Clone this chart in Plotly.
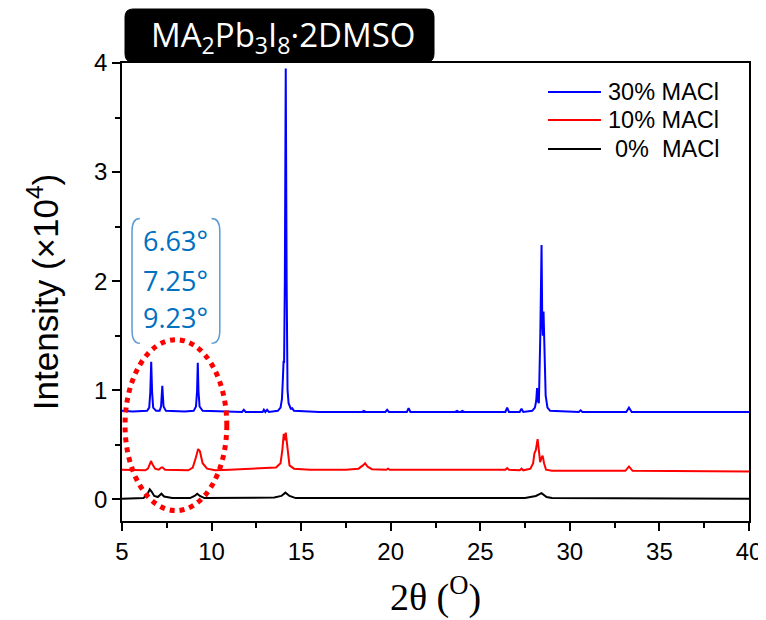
import plotly.graph_objects as go

# ---------------- data ----------------
series_names = ["30% MACl", "10% MACl", "0%\u00a0\u00a0MACl"]
series_colors = ["#0000FF", "#FF0000", "#000000"]

x_30 = [5.0, 5.6, 6.4, 6.52, 6.58, 6.63, 6.68, 6.74, 6.9, 7.1, 7.18, 7.22, 7.25, 7.28, 7.32, 7.45,
        8.5, 9.0, 9.13, 9.19, 9.23, 9.27, 9.33, 9.5, 10.5, 11.7, 11.8, 11.9, 12.85, 12.92, 13.0,
        13.1, 13.2, 13.7, 13.85, 13.93, 13.98, 14.02, 14.05, 14.09, 14.14, 14.19, 14.24, 14.3,
        14.42, 14.5, 14.6, 16.0, 18.4, 18.5, 18.6, 19.7, 19.8, 19.9, 20.9, 21.0, 21.1, 23.6, 23.7,
        23.8, 23.9, 24.0, 24.1, 26.4, 26.5, 26.6, 27.2, 27.3, 27.4, 27.9, 28.05, 28.12, 28.17,
        28.22, 28.27, 28.35, 28.42, 28.46, 28.49, 28.53, 28.59, 28.65, 28.75, 28.9, 30.5, 30.6,
        30.7, 33.15, 33.3, 33.45, 36.0, 40.0]
y_30 = [0.81, 0.805, 0.81, 0.84, 0.98, 1.26, 0.98, 0.84, 0.81, 0.81, 0.85, 0.95, 1.04, 0.95, 0.85, 0.81,
        0.805, 0.81, 0.85, 0.99, 1.25, 0.99, 0.85, 0.81, 0.805, 0.80, 0.82, 0.80, 0.80, 0.82, 0.80,
        0.82, 0.80, 0.81, 0.84, 0.92, 1.1, 1.27, 1.25, 2.0, 3.95, 2.0, 1.0, 0.88,
        0.83, 0.835, 0.81, 0.80, 0.80, 0.81, 0.80, 0.80, 0.82, 0.80, 0.80, 0.835, 0.80, 0.80, 0.81,
        0.80, 0.80, 0.81, 0.80, 0.80, 0.84, 0.80, 0.80, 0.83, 0.80, 0.81, 0.84, 0.90, 1.02,
        0.90, 0.88, 1.5, 2.33, 1.6, 1.5, 1.72, 1.3, 0.95, 0.84, 0.81, 0.80, 0.815,
        0.80, 0.80, 0.84, 0.80, 0.80, 0.80]

x_10 = [5.0, 6.3, 6.45, 6.55, 6.62, 6.7, 6.85, 7.05, 7.2, 7.27, 7.4, 8.7, 8.95, 9.12, 9.25, 9.35,
        9.5, 9.75, 10.2, 11.0, 12.0, 13.0, 13.6, 13.85, 13.95, 14.03, 14.08, 14.14, 14.2, 14.27,
        14.35, 14.6, 15.5, 17.5, 18.2, 18.45, 18.57, 18.7, 18.95, 19.75, 19.85, 19.95, 26.4, 26.5,
        26.6, 27.2, 27.3, 27.4, 27.8, 27.95, 28.02, 28.1, 28.2, 28.27, 28.34, 28.42, 28.48, 28.56,
        28.67, 29.0, 33.1, 33.3, 33.5, 40.0]
y_10 = [0.27, 0.265, 0.28, 0.32, 0.35, 0.32, 0.28, 0.27, 0.29, 0.29, 0.27, 0.265, 0.29, 0.38, 0.46, 0.44,
        0.33, 0.28, 0.265, 0.27, 0.28, 0.285, 0.29, 0.33, 0.45, 0.60, 0.54, 0.61, 0.52, 0.38,
        0.31, 0.28, 0.27, 0.27, 0.28, 0.31, 0.33, 0.30, 0.275, 0.27, 0.28, 0.27, 0.27, 0.285,
        0.27, 0.265, 0.28, 0.265, 0.28, 0.33, 0.42, 0.45, 0.55, 0.45, 0.34, 0.38, 0.40, 0.33,
        0.27, 0.26, 0.26, 0.30, 0.26, 0.255]

x_0 = [5.0, 6.2, 6.4, 6.55, 6.65, 6.8, 7.0, 7.2, 7.35, 7.8, 8.8, 9.05, 9.2, 9.35, 9.6, 12.0, 13.5,
       13.9, 14.12, 14.35, 14.7, 20.0, 27.5, 28.1, 28.42, 28.7, 29.0, 40.0]
y_0 = [0.005, 0.01, 0.04, 0.09, 0.07, 0.03, 0.02, 0.05, 0.025, 0.01, 0.01, 0.03, 0.05, 0.03, 0.01, 0.01, 0.015,
       0.03, 0.06, 0.03, 0.01, 0.01, 0.01, 0.03, 0.055, 0.02, 0.01, 0.005]

x_series = [x_30, x_10, x_0]
y_series = [y_30, y_10, y_0]

peak_labels = ["6.63°", "7.25°", "9.23°"]
x_ticks = [5, 10, 15, 20, 25, 30, 35, 40]
y_ticks = [0, 1, 2, 3, 4]

# ---------------- figure ----------------
W, H = 766, 620
OFF = 8  # page offset of the figure in the screenshot
PW, PH = 627, 458
ML = 122 - OFF
MT = 63 - OFF
MR = W - ML - PW
MB = H - MT - PH


def px(xp):
    return (xp - OFF - ML) / PW


def py(yp):
    return (MT + PH - (yp - OFF)) / PH


fig = go.Figure()
for xs, ys, name, col in zip(x_series, y_series, series_names, series_colors):
    fig.add_trace(go.Scatter(x=xs, y=ys, mode="lines", name=name,
                             line=dict(color=col, width=2), showlegend=False))

shapes = []
annotations = []

# title box (rounded)
x0, x1, y0, y1 = px(125), px(434), py(62), py(9)
rx, ry = 8 / PW, 8 / PH
path = (f"M {x0+rx},{y1} L {x1-rx},{y1} Q {x1},{y1} {x1},{y1-ry} L {x1},{y0+ry} "
        f"Q {x1},{y0} {x1-rx},{y0} L {x0+rx},{y0} Q {x0},{y0} {x0},{y0+ry} "
        f"L {x0},{y1-ry} Q {x0},{y1} {x0+rx},{y1} Z")
shapes.append(dict(type="path", xref="paper", yref="paper", path=path,
                   fillcolor="black", line=dict(color="black", width=1)))
annotations.append(dict(xref="paper", yref="paper", x=px(283), y=py(37),
                        text="MA<sub>2</sub>Pb<sub>3</sub>I<sub>8</sub>·2DMSO",
                        showarrow=False, xanchor="center", yanchor="middle",
                        font=dict(family="Open Sans", size=33, color="white")))

# manual legend
leg_rows = [92, 120, 149]
for name, col, yr in zip(series_names, series_colors, leg_rows):
    shapes.append(dict(type="line", xref="paper", yref="paper",
                       x0=px(548), x1=px(601), y0=py(yr), y1=py(yr),
                       line=dict(color=col, width=2)))
    annotations.append(dict(xref="paper", yref="paper", x=px(721), y=py(yr),
                            text=name, showarrow=False, xanchor="right", yanchor="middle",
                            font=dict(family="Arial, Liberation Sans", size=23.5, color="black")))

# bracket around peak labels
bcol = "#5B9BD5"
shapes.append(dict(type="path", xref="x", yref="y",
                   path="M 6.0,2.575 Q 5.56,2.575 5.56,2.46 L 5.56,1.55 Q 5.56,1.43 6.0,1.43",
                   line=dict(color=bcol, width=1.5)))
shapes.append(dict(type="path", xref="x", yref="y",
                   path="M 10.0,2.575 Q 10.46,2.575 10.46,2.46 L 10.46,1.55 Q 10.46,1.43 10.0,1.43",
                   line=dict(color=bcol, width=1.5)))
for lab, yv in zip(peak_labels, [2.376, 2.009, 1.665]):
    annotations.append(dict(xref="x", yref="y", x=8.01, y=yv, text=lab, showarrow=False,
                            xanchor="center", yanchor="middle",
                            font=dict(family="Open Sans", size=27, color="#0070C0")))

# red dotted ellipse
shapes.append(dict(type="circle", xref="x", yref="y", x0=5.17, x1=10.85, y0=-0.105, y1=1.463,
                   line=dict(color="#FF0000", width=5, dash="dot")))

axis_common = dict(showgrid=False, zeroline=False, showline=True, linecolor="black",
                   linewidth=1.5, mirror=True, ticks="outside", ticklen=8, tickwidth=1.5,
                   tickcolor="black",
                   tickfont=dict(family="Arial, Liberation Sans", size=24, color="black"))

fig.update_layout(
    width=W, height=H,
    margin=dict(l=ML, r=MR, t=MT, b=MB, autoexpand=False),
    paper_bgcolor="white", plot_bgcolor="white",
    xaxis=dict(range=[5, 40], tickvals=x_ticks, **axis_common,
               minor=dict(ticks="outside", ticklen=5, tickwidth=1.5, dtick=2.5, tick0=5,
                          tickcolor="black"),
               title=dict(text="2θ (<sup>O</sup>)", standoff=20,
                          font=dict(family="Liberation Serif, Times New Roman", size=38,
                                    color="black"))),
    yaxis=dict(range=[-0.2, 4.0], tickvals=y_ticks, **axis_common,
               minor=dict(ticks="outside", ticklen=5, tickwidth=1.5, dtick=0.5, tick0=0,
                          tickcolor="black"),
               title=dict(text="Intensity (×10<sup>4</sup>)", standoff=25,
                          font=dict(family="Arial, Liberation Sans", size=35, color="black"))),
    shapes=shapes, annotations=annotations,
)

fig.write_html("out.html")
